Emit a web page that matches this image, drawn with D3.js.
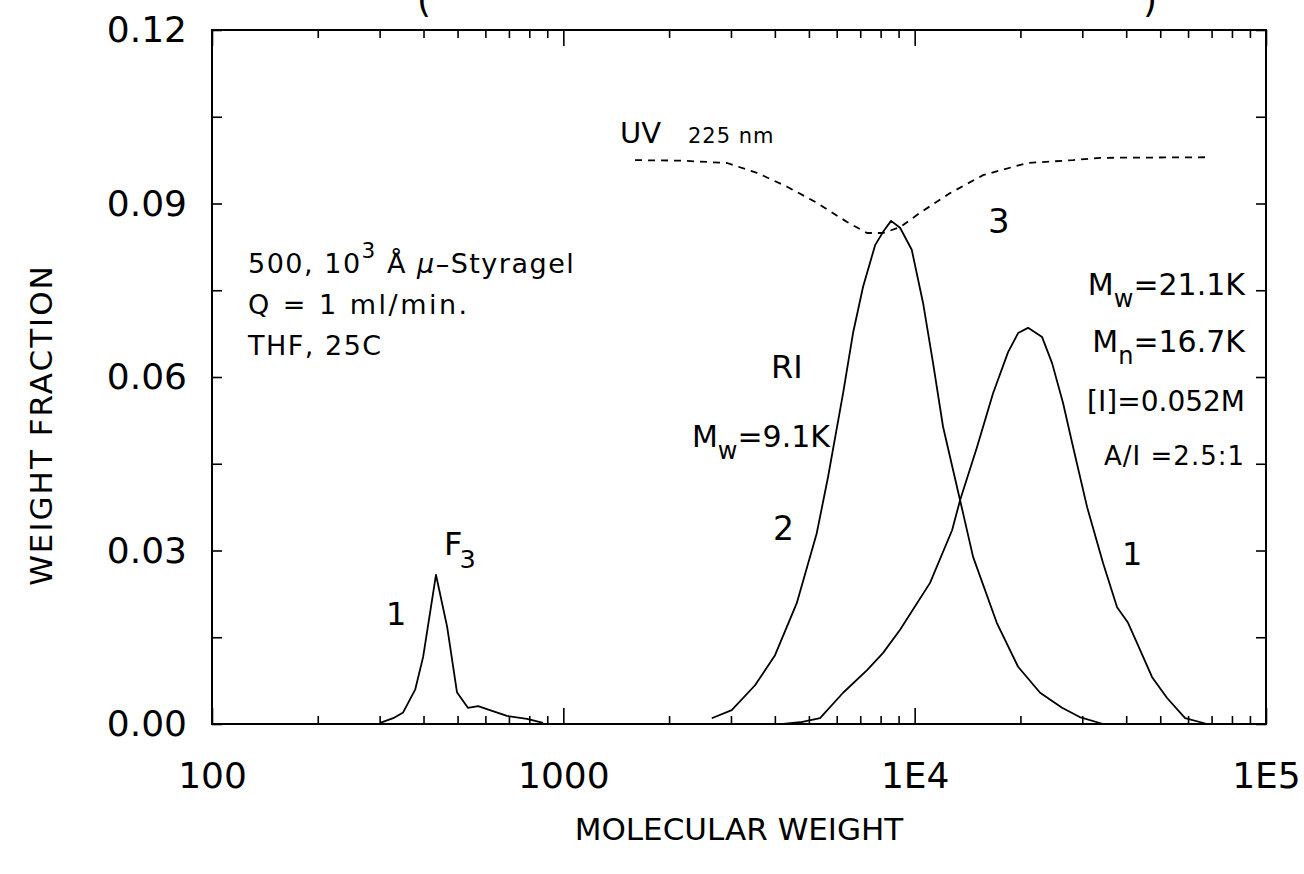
<!DOCTYPE html>
<html>
<head>
<meta charset="utf-8">
<script src="https://cdnjs.cloudflare.com/ajax/libs/d3/7.8.5/d3.min.js"></script>
<style>
  body { margin: 0; background: #fff; }
  svg text { font-family: "DejaVu Sans", "Liberation Sans", sans-serif; fill: #000; }
</style>
</head>
<body>
<div id="chart"></div>
<script>
// Data (molecular weight, weight fraction)
const f3Mw = [301, 328, 350, 379, 399, 434, 467, 498, 535, 572, 618, 691, 788, 876];
const f3Wf = [0.0002, 0.001, 0.002, 0.006, 0.0116, 0.0258, 0.0168, 0.0055, 0.0028, 0.0031, 0.0024, 0.0014, 0.0009, 0.0002];

const riMw = [2645, 3015, 3513, 4005, 4617, 5264, 5668, 6256, 6677, 7131, 7717, 8131, 8567, 9088, 9810,
  10566, 11282, 12045, 13466, 14665, 17128, 19696, 22751, 26276, 29500, 34386];
const riWf = [0.001, 0.0024, 0.0067, 0.0119, 0.0209, 0.033, 0.0427, 0.0572, 0.0676, 0.0756, 0.0828, 0.0851, 0.087, 0.0858, 0.082,
  0.0728, 0.0624, 0.0514, 0.0387, 0.0289, 0.0175, 0.0099, 0.0054, 0.0028, 0.0012, 0.0];

const blendMw = [4222, 4719, 5379, 6256, 7320, 8131, 9088, 11060, 12779, 13466, 15050, 16717, 18446, 19696, 21031, 23051,
  24610, 26446, 28242, 30963, 34386, 37682, 40493, 43806, 47404, 52300, 58850, 67966];
const blendWf = [0.0, 0.0003, 0.001, 0.0054, 0.0093, 0.0123, 0.0163, 0.0244, 0.0335, 0.0387, 0.0479, 0.0572, 0.0643, 0.0676, 0.0685, 0.0669,
  0.0624, 0.0555, 0.0479, 0.0375, 0.0278, 0.0202, 0.0175, 0.0128, 0.0081, 0.0045, 0.001, 0.0];

const uvMw = [1600, 2191, 2924, 3559, 4333, 5276, 6422, 7320, 8131, 9088, 10360, 12614, 15654, 20888, 28242, 33718, 69330];
const uvWf = [0.0975, 0.0974, 0.097, 0.0953, 0.0929, 0.0901, 0.0868, 0.0849, 0.0849, 0.0859, 0.0884, 0.0918, 0.0949, 0.097, 0.0975, 0.0979, 0.098];

const xTickValues = [100, 1000, 1e4, 1e5];
const xTickLabels = ["100", "1000", "1E4", "1E5"];
const yTickValues = [0, 0.03, 0.06, 0.09, 0.12];
const yMinorValues = [0.015, 0.045, 0.075, 0.105];

var svg_width = 1304;
var svg_height = 874;
var margin = { top: 30, right: 38, bottom: 150, left: 212 };

var x = d3.scaleLog()
  .domain([100, 1e5])
  .range([margin.left, svg_width - margin.right]);

var y = d3.scaleLinear()
  .domain([0, 0.12])
  .range([svg_height - margin.bottom, margin.top]);

const svg = d3.select("#chart")
  .append("svg")
  .attr("width", svg_width)
  .attr("height", svg_height);

// minor log ticks 2..9 in each decade
var xMinor = [];
[100, 1000, 1e4].forEach(function(d) {
  for (var k = 2; k <= 9; k++) xMinor.push(d * k);
});

var x0 = x.range()[0], x1 = x.range()[1];
var y0 = y.range()[0], y1 = y.range()[1];

function tickAxis(axis, tr) {
  svg.append("g")
    .attr("class", "tick-axis")
    .attr("transform", tr)
    .call(axis)
    .call(g => g.select(".domain").remove());
}

// bottom / top ticks (inward)
tickAxis(d3.axisBottom(x).tickValues(xMinor).tickSize(-8).tickFormat(""), "translate(0," + y0 + ")");
tickAxis(d3.axisBottom(x).tickValues(xTickValues).tickSize(-16).tickPadding(38)
  .tickFormat((d, i) => xTickLabels[i]), "translate(0," + y0 + ")");
tickAxis(d3.axisTop(x).tickValues(xMinor).tickSize(-8).tickFormat(""), "translate(0," + y1 + ")");
tickAxis(d3.axisTop(x).tickValues(xTickValues).tickSize(-16).tickFormat(""), "translate(0," + y1 + ")");

// left / right ticks
tickAxis(d3.axisLeft(y).tickValues(yTickValues).tickSize(-10).tickPadding(25)
  .tickFormat(d3.format(".2f")), "translate(" + x0 + ",0)");
tickAxis(d3.axisLeft(y).tickValues(yMinorValues).tickSize(-10).tickFormat(""), "translate(" + x0 + ",0)");
tickAxis(d3.axisRight(y).tickValues(yTickValues.concat(yMinorValues)).tickSize(-10).tickFormat(""), "translate(" + x1 + ",0)");

svg.selectAll(".tick-axis line").attr("stroke", "#000").attr("stroke-width", 1.6);
svg.selectAll(".tick-axis text").style("font-size", "36px");

// frame
svg.append("rect")
  .attr("x", x0).attr("y", y1)
  .attr("width", x1 - x0).attr("height", y0 - y1)
  .attr("fill", "none")
  .attr("stroke", "#000")
  .attr("stroke-width", 2);

// curves
var line = d3.line()
  .x(d => x(d[0]))
  .y(d => y(d[1]));

function drawCurve(mw, wf, dash) {
  svg.append("path")
    .datum(mw.map((m, i) => [m, wf[i]]))
    .attr("d", line)
    .attr("fill", "none")
    .attr("stroke", "#000")
    .attr("stroke-width", 1.8)
    .attr("stroke-linejoin", "round")
    .attr("stroke-dasharray", dash || null);
}

drawCurve(f3Mw, f3Wf);
drawCurve(riMw, riWf);
drawCurve(blendMw, blendWf);
drawCurve(uvMw, uvWf, "7,6");

// axis titles
svg.append("text")
  .attr("x", (x0 + x1) / 2)
  .attr("y", 840)
  .attr("text-anchor", "middle")
  .style("font-size", "31px")
  .text("MOLECULAR WEIGHT");

svg.append("text")
  .attr("transform", "translate(52,425) rotate(-90)")
  .attr("text-anchor", "middle")
  .style("font-size", "31px")
  .style("letter-spacing", "2px")
  .text("WEIGHT FRACTION");

// cut-off title at the very top
svg.append("text").attr("x", 417).attr("y", 12).style("font-size", "36px").text("(");
svg.append("text").attr("x", 1143).attr("y", 12).style("font-size", "36px").text(")");

// annotations
function label(xp, yp, size, parts, anchor, spacing) {
  var t = svg.append("text")
    .attr("x", xp).attr("y", yp)
    .attr("text-anchor", anchor || "start")
    .style("font-size", size + "px")
    .style("letter-spacing", (spacing || 0) + "px");
  parts.forEach(function(p) {
    if (typeof p === "string") {
      t.append("tspan").text(p);
    } else {
      var s = t.append("tspan").text(p.t);
      if (p.sub) s.attr("dy", size * 0.4).style("font-size", size * 0.8 + "px");
      if (p.sup) s.attr("dy", -size * 0.55).style("font-size", size * 0.8 + "px");
      if (p.back) s.attr("dy", p.back);
      if (p.dx) s.attr("dx", p.dx);
      if (p.it) s.style("font-style", "italic");
    }
  });
  return t;
}

label(248, 273, 27, ["500, 10", { sup: 1, t: "3" }, { back: 27 * 0.55, t: " Å  " }, { it: 1, t: "μ" }, "–Styragel"], "start", 1.5);
label(248, 314, 27, ["Q = 1 ml/min."], "start", 2.5);
label(248, 355, 27, ["THF,  25C"], "start", 1.5);

label(620, 143, 29, ["UV"]);
label(688, 143, 21, ["225 nm"], "start", 1);
label(988, 233, 34, ["3"]);
label(771, 378, 32, ["RI"]);
label(830, 447, 30, ["M", { sub: 1, t: "w" }, { back: -30 * 0.4, t: "=9.1K" }], "end");
label(773, 540, 33, ["2"]);
label(1122, 565, 32, ["1"]);
label(444, 555, 32, ["F", { sub: 1, dx: -3, t: "3" }]);
label(386, 625, 32, ["1"]);

label(1245, 295, 30, ["M", { sub: 1, t: "w" }, { back: -30 * 0.4, t: "=21.1K" }], "end");
label(1245, 352, 30, ["M", { sub: 1, t: "n" }, { back: -30 * 0.4, t: "=16.7K" }], "end");
label(1245, 411, 28, ["[I]=0.052M"], "end");
label(1245, 465, 26, ["A/I =2.5:1"], "end", 1);
</script>
</body>
</html>
